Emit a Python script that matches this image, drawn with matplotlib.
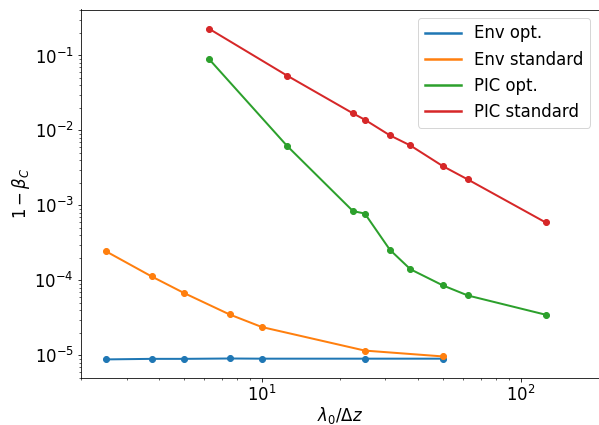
import matplotlib
matplotlib.use("Agg")
import matplotlib.pyplot as plt

env_x = [2.5, 3.75, 5, 7.5, 10, 25, 50]
env_opt = [8.85e-6, 9.0e-6, 9.0e-6, 9.1e-6, 9.05e-6, 9.05e-6, 9.05e-6]
env_std = [2.44e-4, 1.13e-4, 6.8e-5, 3.52e-5, 2.39e-5, 1.16e-5, 9.7e-6]

pic_x = [6.25, 12.5, 22.5, 25, 31.25, 37.5, 50, 62.5, 125]
pic_opt = [8.95e-2, 6.25e-3, 8.4e-4, 7.8e-4, 2.56e-4, 1.41e-4, 8.6e-5, 6.3e-5, 3.49e-5]
pic_std = [2.27e-1, 5.4e-2, 1.69e-2, 1.39e-2, 8.6e-3, 6.3e-3, 3.35e-3, 2.22e-3, 5.93e-4]

labels = ["Env opt.", "Env standard", "PIC opt.", "PIC standard"]
colors = ["#1f77b4", "#ff7f0e", "#2ca02c", "#d62728"]

dpi = 72
fs = 16.5
fig = plt.figure(figsize=(599/dpi, 425/dpi), dpi=dpi)
ax = fig.add_axes([81/599, 1-378/425, (598.5-81)/599, (378-9.5)/425])

series = [(env_x, env_opt), (env_x, env_std), (pic_x, pic_opt), (pic_x, pic_std)]
for (x, y), lab, c in zip(series, labels, colors):
    ax.plot(x, y, color=c, lw=2, label=lab)
    ax.plot(x, y, 'o', color=c, ms=6)

ax.set_xscale('log')
ax.set_yscale('log')
ax.set_xlim(2, 200)
ax.set_ylim(5e-6, 0.41)
ax.tick_params(labelsize=fs)
ax.set_xlabel(r'$\lambda_0/\Delta z$', fontsize=fs, labelpad=0)
ax.set_ylabel(r'$1-\beta_C$', fontsize=fs, labelpad=2)
leg = ax.legend(loc='upper right', fontsize=fs, handlelength=2.2)
for h in leg.get_lines():
    h.set_linewidth(2.5)
fig.savefig('out.png', dpi=dpi)
